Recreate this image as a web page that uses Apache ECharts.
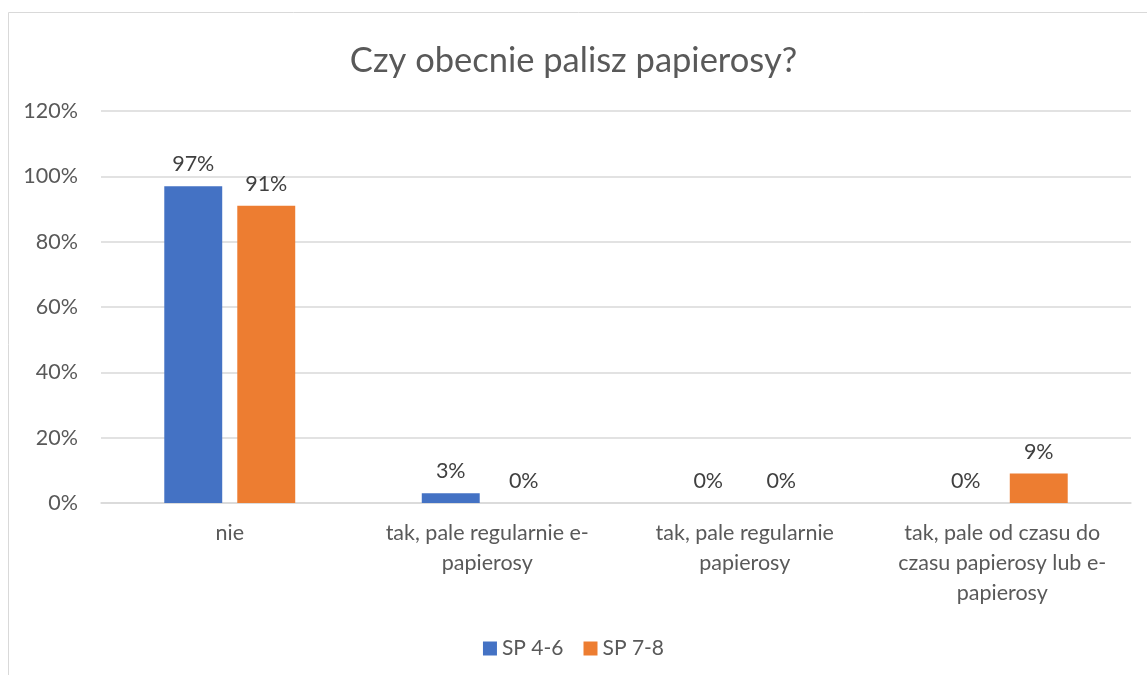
<!DOCTYPE html>
<html><head><meta charset="utf-8">
<script src="https://cdn.jsdelivr.net/npm/echarts@6/dist/echarts.min.js"></script>
<style>html,body{margin:0;padding:0;background:#fff}#c{width:1147px;height:675px}</style>
</head><body><div id="c"></div>
<script>
const titleText = 'Czy obecnie palisz papierosy?';
const categories = ['nie', 'tak, pale regularnie e-\npapierosy', 'tak, pale regularnie\npapierosy', 'tak, pale od czasu do\nczasu papierosy lub e-\npapierosy'];
const seriesNames = ['SP 4-6', 'SP 7-8'];
const sp46 = [97, 3, 0, 0];
const sp78 = [91, 0, 0, 9];
const yTicks = [0, 20, 40, 60, 80, 100, 120];

const FONT = 'Lato, "Open Sans", sans-serif';
const chart = echarts.init(document.getElementById('c'), null, {renderer: 'canvas'});
const lbl = {show: true, position: 'top', distance: 11, formatter: p => p.value + '%', color: '#404040', fontSize: 21.5, fontFamily: FONT};
chart.setOption({
  animation: false,
  graphic: [{type: 'rect', shape: {x: 8.5, y: 12.5, width: 1160, height: 700}, style: {fill: 'none', stroke: '#d9d9d9', lineWidth: 1}, z: -1}],
  title: {text: titleText, left: 'center', top: 38, textStyle: {fontFamily: FONT, fontSize: 34.5, fontWeight: 'normal', color: '#595959'}},
  grid: {left: 101, right: 16, top: 111, bottom: 172, containLabel: false},
  legend: {bottom: 11, left: 'center', itemWidth: 14, itemHeight: 14, itemGap: 20, icon: 'rect',
    textStyle: {fontFamily: FONT, fontSize: 21, color: '#595959'}},
  xAxis: {type: 'category', data: categories,
    axisLine: {show: true, lineStyle: {color: '#d9d9d9', width: 1.5}}, axisTick: {show: false},
    axisLabel: {interval: 0, margin: 15, color: '#595959', fontSize: 21.5, fontFamily: FONT, lineHeight: 30}},
  yAxis: {type: 'value', min: 0, max: 120, interval: 20,
    axisLabel: {formatter: v => yTicks.includes(v) ? v + '%' : '', color: '#595959', fontSize: 21.5, fontFamily: FONT, margin: 23},
    axisLine: {show: false}, axisTick: {show: false},
    splitLine: {lineStyle: {color: '#d9d9d9', width: 1.5}}},
  series: [
    {name: seriesNames[0], type: 'bar', data: sp46, barWidth: '22.5%', barGap: '26%', itemStyle: {color: '#4472c4'}, label: lbl},
    {name: seriesNames[1], type: 'bar', data: sp78, barWidth: '22.5%', itemStyle: {color: '#ed7d31'}, label: lbl}
  ]
});
</script></body></html>
